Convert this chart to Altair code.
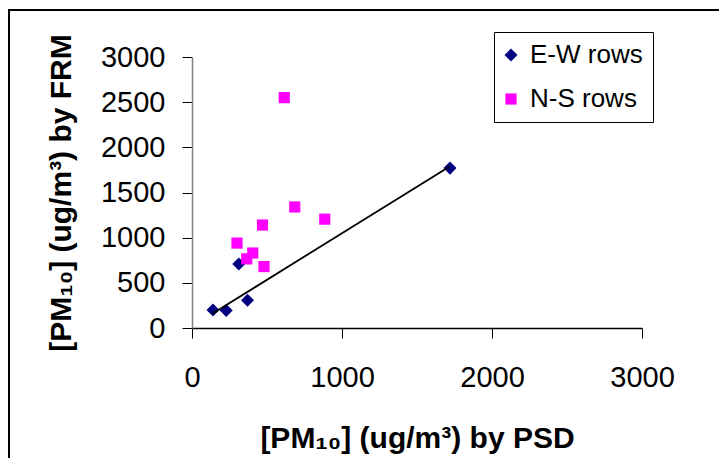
import altair as alt
import pandas as pd

# E-W rows (diamonds)
ew_x = [140, 228, 312, 370, 1720]
ew_y = [200, 195, 708, 308, 1770]
# N-S rows (squares)
ns_x = [300, 365, 405, 470, 480, 685, 885, 615]
ns_y = [940, 765, 830, 1140, 680, 1340, 1205, 2550]
# trend line end points (E-W rows)
trend_x = [135, 1715]
trend_y = [158, 1786]

series_names = ["E-W rows", "N-S rows"]
series_colors = ["#000080", "#FF00FF"]
series_shapes = ["diamond", "square"]
series_sizes = [170, 125]

x_ticks = [0, 1000, 2000, 3000]
y_ticks = [0, 500, 1000, 1500, 2000, 2500, 3000]

FONT = "Liberation Sans, Arial, sans-serif"

df = pd.DataFrame({
    "x": ew_x + ns_x,
    "y": ew_y + ns_y,
    "series": [series_names[0]] * len(ew_x) + [series_names[1]] * len(ns_x),
})
trend_df = pd.DataFrame({"x": trend_x, "y": trend_y})

x_enc = alt.X(
    "x:Q",
    scale=alt.Scale(domain=[0, 3000], nice=False),
    axis=alt.Axis(
        values=x_ticks, format="d", grid=False,
        title="[PM₁₀] (ug/m³) by PSD",
        tickSize=10, labelPadding=25, labelFlush=False, labelOverlap=False,
        domainColor="black", domainWidth=1.5, tickColor="black",
        labelFont=FONT, labelFontSize=29, labelColor="black",
        titleFont=FONT, titleFontSize=30, titleFontWeight="bold", titleColor="black",
        titleY=119, titleBaseline="alphabetic",
    ),
)
y_enc = alt.Y(
    "y:Q",
    scale=alt.Scale(domain=[0, 3000], nice=False),
    axis=alt.Axis(
        values=y_ticks, format="d", grid=False,
        title="[PM₁₀] (ug/m³) by FRM",
        tickSize=10, labelPadding=17, labelOverlap=False,
        domainColor="#808080", domainWidth=1.5, tickColor="black",
        labelFont=FONT, labelFontSize=29, labelColor="black",
        titleFont=FONT, titleFontSize=30, titleFontWeight="bold", titleColor="black",
        titleX=-122, titleBaseline="alphabetic",
    ),
)

frame = alt.Chart(pd.DataFrame({"a": [0]})).mark_rect(
    fill="white", fillOpacity=0, stroke="black", strokeWidth=2
).encode(
    x=alt.value(-183), x2=alt.value(700), y=alt.value(-47), y2=alt.value(600)
)

points = alt.Chart(df).mark_point(filled=True, opacity=1).encode(
    x=x_enc,
    y=y_enc,
    color=alt.Color("series:N", scale=alt.Scale(domain=series_names, range=series_colors),
                    legend=alt.Legend(title=None)),
    shape=alt.Shape("series:N", scale=alt.Scale(domain=series_names, range=series_shapes),
                    legend=alt.Legend(title=None)),
    size=alt.Size("series:N", scale=alt.Scale(domain=series_names, range=series_sizes),
                  legend=None),
)

line = alt.Chart(trend_df).mark_line(color="black", strokeWidth=1.8).encode(
    x=x_enc, y=y_enc
)

chart = alt.layer(frame, points, line).properties(
    width=450,
    height=271,
    padding={"left": 184, "top": 49, "right": 77, "bottom": 130},
    autosize=alt.AutoSizeParams(type="none"),
    background="white",
).configure_view(strokeWidth=0).configure_legend(
    orient="none", legendX=302, legendY=-25,
    strokeColor="black", fillColor="white", padding=10,
    labelFont=FONT, labelFontSize=26, labelColor="black",
    symbolSize=110, rowPadding=18, labelOffset=6, symbolOffset=-6, symbolStrokeWidth=0,
)

chart.save("out.html", embed_options={"renderer": "svg", "actions": False})
